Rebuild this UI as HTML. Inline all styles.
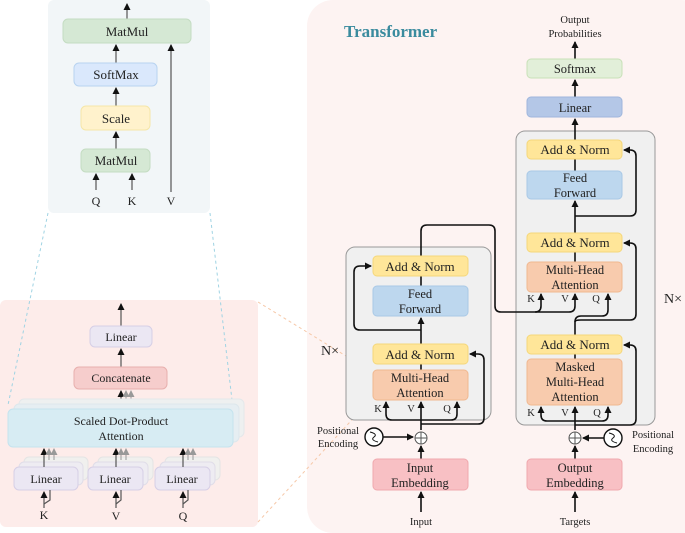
<!DOCTYPE html>
<html><head><meta charset="utf-8"><style>
html,body{margin:0;padding:0;background:#fff;}
svg{display:block;}
text{font-family:"Liberation Serif",serif;fill:#222;}
</style></head><body>
<svg width="685" height="533" viewBox="0 0 685 533" xmlns="http://www.w3.org/2000/svg">
<defs>
<marker id="a" markerWidth="8" markerHeight="8" refX="6" refY="4" orient="auto" markerUnits="userSpaceOnUse"><path d="M0,0.5 L7,4 L0,7.5 z" fill="#111"/></marker>
<marker id="g" markerWidth="8" markerHeight="8" refX="6" refY="4" orient="auto" markerUnits="userSpaceOnUse"><path d="M0,0.5 L7,4 L0,7.5 z" fill="#999"/></marker>
</defs>
<!-- top-left panel -->
<rect x="48" y="0" width="162" height="213" rx="6" fill="#f2f6f8"/>
<g stroke="#555" stroke-width="1.2" fill="none">
<line x1="127" y1="19" x2="127" y2="4" marker-end="url(#a)"/>
<line x1="116" y1="63" x2="116" y2="45" marker-end="url(#a)"/>
<line x1="116" y1="106" x2="116" y2="88" marker-end="url(#a)"/>
<line x1="116" y1="149" x2="116" y2="132" marker-end="url(#a)"/>
<line x1="96" y1="190" x2="96" y2="174" marker-end="url(#a)"/>
<line x1="132" y1="190" x2="132" y2="174" marker-end="url(#a)"/>
<line x1="171" y1="192" x2="171" y2="45" marker-end="url(#a)"/>
</g>
<rect x="63" y="19" width="128" height="24" rx="5" fill="#d5e8d4" stroke="#c4dcc2"/>
<text x="127" y="36" font-size="13" text-anchor="middle">MatMul</text>
<rect x="74" y="63" width="83" height="23" rx="5" fill="#dae8fc" stroke="#b8d3f0"/>
<text x="116" y="79" font-size="13" text-anchor="middle">SoftMax</text>
<rect x="81" y="106" width="69" height="24" rx="5" fill="#fff2cc" stroke="#f5e6a8"/>
<text x="116" y="123" font-size="13" text-anchor="middle">Scale</text>
<rect x="81" y="149" width="69" height="23" rx="5" fill="#d5e8d4" stroke="#c4dcc2"/>
<text x="116" y="165" font-size="13" text-anchor="middle">MatMul</text>
<text x="96" y="205" font-size="12" text-anchor="middle">Q</text>
<text x="132" y="205" font-size="12" text-anchor="middle">K</text>
<text x="171" y="205" font-size="12" text-anchor="middle">V</text>

<!-- bottom-left panel -->
<rect x="0" y="300" width="258" height="227" rx="6" fill="#fdecea"/>
<line x1="48" y1="213" x2="8" y2="405" stroke="#9fd3e3" stroke-dasharray="3,3"/>
<line x1="210" y1="213" x2="232" y2="400" stroke="#9fd3e3" stroke-dasharray="3,3"/>
<g stroke="#555" stroke-width="1.2">
<line x1="121" y1="326" x2="121" y2="304" marker-end="url(#a)"/>
<line x1="121" y1="367" x2="121" y2="349" marker-end="url(#a)"/>
<line x1="121" y1="409" x2="121" y2="391" marker-end="url(#a)"/>
</g>
<g stroke="#999" stroke-width="1"><line x1="126" y1="400" x2="126" y2="391" marker-end="url(#g)"/><line x1="131" y1="400" x2="131" y2="391" marker-end="url(#g)"/></g>
<rect x="19" y="399" width="225" height="38" rx="5" fill="#eef0f0" stroke="#e4e8ea"/>
<rect x="14" y="404" width="225" height="38" rx="5" fill="#e6eef2" stroke="#dde7ec"/>
<rect x="8" y="409" width="225" height="38" rx="5" fill="#d7ecf3" stroke="#c5e3ee"/>
<text x="121" y="425" font-size="12" text-anchor="middle">Scaled Dot-Product</text>
<text x="121" y="440" font-size="12" text-anchor="middle">Attention</text>
<rect x="90" y="326" width="62" height="21" rx="5" fill="#ebe7f3" stroke="#d6cfe6"/>
<text x="121" y="341" font-size="12" text-anchor="middle">Linear</text>
<rect x="74" y="367" width="93" height="22" rx="5" fill="#f6cdcc" stroke="#e8b0ae"/>
<text x="121" y="382" font-size="12" text-anchor="middle">Concatenate</text>
<g>
<rect x="24" y="457" width="64" height="23" rx="5" fill="#f0f0ee" stroke="#e4e4e4"/>
<rect x="19" y="462" width="64" height="23" rx="5" fill="#eeecf2" stroke="#e0dde8"/>
<rect x="98" y="457" width="55" height="23" rx="5" fill="#f0f0ee" stroke="#e4e4e4"/>
<rect x="93" y="462" width="55" height="23" rx="5" fill="#eeecf2" stroke="#e0dde8"/>
<rect x="165" y="457" width="55" height="23" rx="5" fill="#f0f0ee" stroke="#e4e4e4"/>
<rect x="160" y="462" width="55" height="23" rx="5" fill="#eeecf2" stroke="#e0dde8"/>
</g>
<rect x="14" y="467" width="64" height="23" rx="5" fill="#ebe7f3" stroke="#d6cfe6"/>
<rect x="88" y="467" width="55" height="23" rx="5" fill="#ebe7f3" stroke="#d6cfe6"/>
<rect x="155" y="467" width="55" height="23" rx="5" fill="#ebe7f3" stroke="#d6cfe6"/>
<text x="46" y="483" font-size="12" text-anchor="middle">Linear</text>
<text x="115" y="483" font-size="12" text-anchor="middle">Linear</text>
<text x="182" y="483" font-size="12" text-anchor="middle">Linear</text>
<g stroke="#555" stroke-width="1.2" fill="none">
<line x1="44" y1="467" x2="44" y2="449" marker-end="url(#a)"/>
<line x1="116" y1="467" x2="116" y2="449" marker-end="url(#a)"/>
<line x1="183" y1="467" x2="183" y2="449" marker-end="url(#a)"/>
<line x1="44" y1="508" x2="44" y2="492" marker-end="url(#a)"/>
<line x1="116" y1="508" x2="116" y2="492" marker-end="url(#a)"/>
<line x1="183" y1="508" x2="183" y2="492" marker-end="url(#a)"/>
<path d="M44,504 L50,500 L50,490"/><path d="M116,504 L121,500 L121,490"/><path d="M183,504 L188,500 L188,490"/>
</g>
<g stroke="#999" stroke-width="1">
<line x1="49" y1="460" x2="49" y2="449" marker-end="url(#g)"/><line x1="54" y1="460" x2="54" y2="449" marker-end="url(#g)"/>
<line x1="121" y1="460" x2="121" y2="449" marker-end="url(#g)"/><line x1="126" y1="460" x2="126" y2="449" marker-end="url(#g)"/>
<line x1="188" y1="460" x2="188" y2="449" marker-end="url(#g)"/><line x1="193" y1="460" x2="193" y2="449" marker-end="url(#g)"/>
</g>
<text x="44" y="519" font-size="12" text-anchor="middle">K</text>
<text x="116" y="520" font-size="12" text-anchor="middle">V</text>
<text x="183" y="520" font-size="12" text-anchor="middle">Q</text>

<!-- right panel -->
<rect x="307" y="0" width="400" height="533" rx="26" fill="#fdf3f2"/>
<line x1="258" y1="302" x2="372" y2="372" stroke="#f6c8a8" stroke-dasharray="3,3"/>
<line x1="258" y1="522" x2="372" y2="398" stroke="#f6c8a8" stroke-dasharray="3,3"/>
<text x="344" y="37" font-size="17" font-weight="bold" style="fill:#3a8b9e">Transformer</text>
<rect x="346" y="247" width="145" height="173" rx="9" fill="#f0f0f0" stroke="#999"/>
<rect x="516" y="131" width="139" height="294" rx="9" fill="#f0f0f0" stroke="#999"/>
<text x="330" y="355" font-size="14" text-anchor="middle">N×</text>
<text x="673" y="303" font-size="14" text-anchor="middle">N×</text>

<g stroke="#111" stroke-width="1.6" fill="none">
<!-- encoder -->
<line x1="421" y1="512" x2="421" y2="492" marker-end="url(#a)"/>
<line x1="421" y1="459" x2="421" y2="446" marker-end="url(#a)"/>
<line x1="383" y1="437" x2="413" y2="437" marker-end="url(#a)"/>
<line x1="421" y1="430" x2="421" y2="402" marker-end="url(#a)"/>
<path d="M421,420 L392,420 Q386,420 386,414 L386,402" marker-end="url(#a)"/>
<path d="M421,420 L451,420 Q457,420 457,414 L457,402" marker-end="url(#a)"/>
<path d="M421,424 L478,424 Q484,424 484,418 L484,360 Q484,354 478,354 L470,354" marker-end="url(#a)"/>
<line x1="421" y1="370" x2="421" y2="364"/>
<line x1="421" y1="344" x2="421" y2="318" marker-end="url(#a)"/>
<path d="M421,330 L360,330 Q354,330 354,324 L354,272 Q354,266 360,266 L371,266" marker-end="url(#a)"/>
<line x1="421" y1="286" x2="421" y2="276"/>
<path d="M421,256 L421,231 Q421,225 427,225 L489,225 Q495,225 495,231 L495,306 Q495,312 501,312 L535,312 Q541,312 541,306 L541,294" marker-end="url(#a)"/>
<path d="M535,312 L569,312 Q575,312 575,306 L575,294" marker-end="url(#a)"/>
<!-- decoder -->
<line x1="575" y1="512" x2="575" y2="492" marker-end="url(#a)"/>
<line x1="575" y1="459" x2="575" y2="446" marker-end="url(#a)"/>
<line x1="605" y1="438" x2="583" y2="438" marker-end="url(#a)"/>
<line x1="575" y1="430" x2="575" y2="407" marker-end="url(#a)"/>
<path d="M575,421 L547,421 Q541,421 541,415 L541,407" marker-end="url(#a)"/>
<path d="M575,421 L602,421 Q608,421 608,415 L608,407" marker-end="url(#a)"/>
<path d="M575,425 L630,425 Q636,425 636,419 L636,351 Q636,345 630,345 L624,345" marker-end="url(#a)"/>
<line x1="575" y1="359" x2="575" y2="354"/>
<path d="M575,335 L575,322 Q575,316 581,316 L602,316 Q608,316 608,310 L608,294" marker-end="url(#a)"/>
<path d="M575,322 Q575,320 581,320 L630,320 Q636,320 636,314 L636,249 Q636,243 630,243 L624,243" marker-end="url(#a)"/>
<line x1="575" y1="262" x2="575" y2="252"/>
<line x1="575" y1="233" x2="575" y2="201" marker-end="url(#a)"/>
<path d="M575,216 L630,216 Q636,216 636,210 L636,156 Q636,150 630,150 L624,150" marker-end="url(#a)"/>
<line x1="575" y1="171" x2="575" y2="159"/>
<line x1="575" y1="140" x2="575" y2="119" marker-end="url(#a)"/>
<line x1="575" y1="97" x2="575" y2="80" marker-end="url(#a)"/>
<line x1="575" y1="59" x2="575" y2="42" marker-end="url(#a)"/>
</g>
<!-- encoder boxes -->
<rect x="373" y="256" width="95" height="20" rx="4" fill="#ffe699" stroke="#f5d77a"/>
<text x="420" y="271" font-size="13" text-anchor="middle">Add &amp; Norm</text>
<rect x="373" y="286" width="95" height="30" rx="4" fill="#bdd7ee" stroke="#a9c9e6"/>
<text x="420" y="298" font-size="12.5" text-anchor="middle">Feed</text>
<text x="420" y="313" font-size="12.5" text-anchor="middle">Forward</text>
<rect x="373" y="344" width="95" height="20" rx="4" fill="#ffe699" stroke="#f5d77a"/>
<text x="420" y="359" font-size="13" text-anchor="middle">Add &amp; Norm</text>
<rect x="373" y="370" width="95" height="30" rx="4" fill="#f8cbad" stroke="#f0b890"/>
<text x="420" y="382" font-size="12.5" text-anchor="middle">Multi-Head</text>
<text x="420" y="397" font-size="12.5" text-anchor="middle">Attention</text>
<text x="378" y="412" font-size="10.5" text-anchor="middle">K</text>
<text x="411" y="412" font-size="10.5" text-anchor="middle">V</text>
<text x="447" y="412" font-size="10.5" text-anchor="middle">Q</text>
<circle cx="421" cy="438" r="6" fill="#fff" stroke="#555"/><path d="M415,438 H427 M421,432 V444" stroke="#555"/>
<circle cx="374" cy="437" r="9" fill="#fff" stroke="#111" stroke-width="1.4"/><path d="M370,432 Q378,434 374,437 Q370,440 378,442" stroke="#111" fill="none"/>
<text x="338" y="434" font-size="10.5" text-anchor="middle">Positional</text>
<text x="338" y="447" font-size="10.5" text-anchor="middle">Encoding</text>
<rect x="373" y="459" width="95" height="31" rx="4" fill="#f8c0c4" stroke="#f0a8ae"/>
<text x="420" y="472" font-size="12.5" text-anchor="middle">Input</text>
<text x="420" y="487" font-size="12.5" text-anchor="middle">Embedding</text>
<text x="421" y="525" font-size="10.5" text-anchor="middle">Input</text>
<!-- decoder boxes -->
<text x="575" y="23" font-size="10.5" text-anchor="middle">Output</text>
<text x="575" y="37" font-size="10.5" text-anchor="middle">Probabilities</text>
<rect x="527" y="59" width="95" height="19" rx="4" fill="#e2efd9" stroke="#c8e0b8"/>
<text x="575" y="73" font-size="12.5" text-anchor="middle">Softmax</text>
<rect x="527" y="97" width="95" height="20" rx="4" fill="#b4c7e7" stroke="#9fb6dc"/>
<text x="575" y="112" font-size="12.5" text-anchor="middle">Linear</text>
<rect x="527" y="140" width="95" height="19" rx="4" fill="#ffe699" stroke="#f5d77a"/>
<text x="575" y="154" font-size="13" text-anchor="middle">Add &amp; Norm</text>
<rect x="527" y="171" width="95" height="28" rx="4" fill="#bdd7ee" stroke="#a9c9e6"/>
<text x="575" y="182" font-size="12.5" text-anchor="middle">Feed</text>
<text x="575" y="197" font-size="12.5" text-anchor="middle">Forward</text>
<rect x="527" y="233" width="95" height="19" rx="4" fill="#ffe699" stroke="#f5d77a"/>
<text x="575" y="247" font-size="13" text-anchor="middle">Add &amp; Norm</text>
<rect x="527" y="262" width="95" height="30" rx="4" fill="#f8cbad" stroke="#f0b890"/>
<text x="575" y="274" font-size="12.5" text-anchor="middle">Multi-Head</text>
<text x="575" y="289" font-size="12.5" text-anchor="middle">Attention</text>
<text x="531" y="302" font-size="10.5" text-anchor="middle">K</text>
<text x="565" y="302" font-size="10.5" text-anchor="middle">V</text>
<text x="596" y="302" font-size="10.5" text-anchor="middle">Q</text>
<rect x="527" y="335" width="95" height="19" rx="4" fill="#ffe699" stroke="#f5d77a"/>
<text x="575" y="349" font-size="13" text-anchor="middle">Add &amp; Norm</text>
<rect x="527" y="359" width="95" height="46" rx="4" fill="#f8cbad" stroke="#f0b890"/>
<text x="575" y="371" font-size="12.5" text-anchor="middle">Masked</text>
<text x="575" y="386" font-size="12.5" text-anchor="middle">Multi-Head</text>
<text x="575" y="401" font-size="12.5" text-anchor="middle">Attention</text>
<text x="531" y="416" font-size="10.5" text-anchor="middle">K</text>
<text x="565" y="416" font-size="10.5" text-anchor="middle">V</text>
<text x="597" y="416" font-size="10.5" text-anchor="middle">Q</text>
<circle cx="575" cy="438" r="6" fill="#fff" stroke="#555"/><path d="M569,438 H581 M575,432 V444" stroke="#555"/>
<circle cx="613" cy="438" r="9" fill="#fff" stroke="#111" stroke-width="1.4"/><path d="M609,433 Q617,435 613,438 Q609,441 617,443" stroke="#111" fill="none"/>
<text x="653" y="438" font-size="10.5" text-anchor="middle">Positional</text>
<text x="653" y="452" font-size="10.5" text-anchor="middle">Encoding</text>
<rect x="527" y="459" width="95" height="31" rx="4" fill="#f8c0c4" stroke="#f0a8ae"/>
<text x="575" y="472" font-size="12.5" text-anchor="middle">Output</text>
<text x="575" y="487" font-size="12.5" text-anchor="middle">Embedding</text>
<text x="575" y="525" font-size="10.5" text-anchor="middle">Targets</text>
</svg>
</body></html>
